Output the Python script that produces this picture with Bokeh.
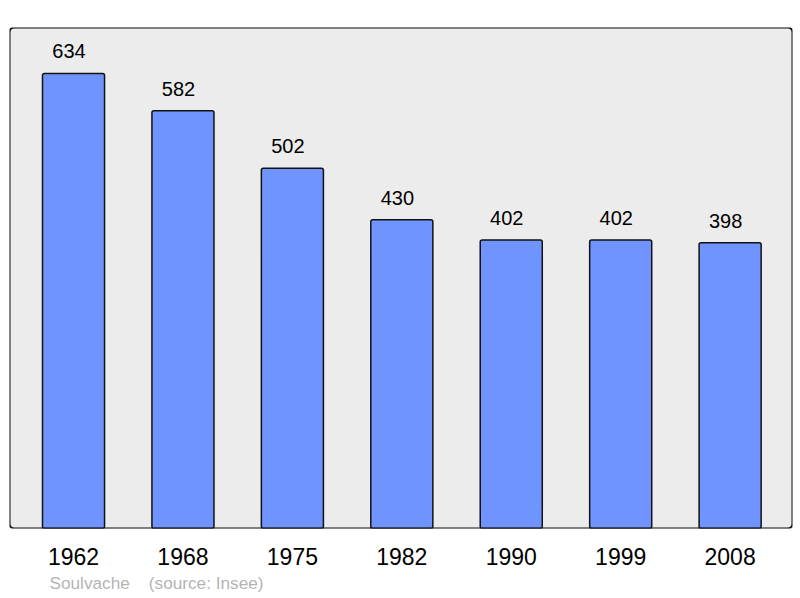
from bokeh.plotting import figure
from bokeh.models import Range1d, FixedTicker, Title, BoxAnnotation, ColumnDataSource
from bokeh.core.properties import value
from bokeh.embed import file_html
from bokeh.resources import INLINE

years = ["1962", "1968", "1975", "1982", "1990", "1999", "2008"]
population = [634, 582, 502, 430, 402, 402, 398]
commune = "Soulvache"
source_text = "(source: Insee)"

idx = list(range(len(years)))
src = ColumnDataSource(dict(x=idx, top=population, label=[str(v) for v in population]))

p = figure(width=800, height=598, output_backend="svg", toolbar_location=None,
           x_range=Range1d(-0.585, len(years) - 1 + 0.57), y_range=Range1d(0, 698),
           min_border_left=9, min_border_right=8, min_border_top=27, min_border_bottom=70)
p.background_fill_color = "#ececec"
p.border_fill_color = "white"
p.outline_line_color = None
p.grid.visible = False
p.yaxis.visible = False

p.vbar(x="x", top="top", width=0.567, bottom=0, source=src,
       fill_color="#7094ff", line_color="#111111", line_width=1.5, border_radius=2)
p.text(x="x", y="top", text="label", source=src, text_align="center",
       text_baseline="alphabetic", x_offset=-4.5, y_offset=-22, text_font=value("Liberation Sans"),
       text_font_size="20px", text_color="black")

p.add_layout(BoxAnnotation(fill_color=None, fill_alpha=0, line_color="#111111", line_alpha=1,
                           line_width=2, border_radius=5))

ax = p.xaxis[0]
ax.ticker = FixedTicker(ticks=idx)
ax.major_label_overrides = {i: y for i, y in zip(idx, years)}
ax.axis_line_color = None
ax.major_tick_line_color = None
ax.minor_tick_line_color = None
ax.major_label_standoff = 13
ax.major_label_text_font = "Liberation Sans"
ax.major_label_text_font_size = "23px"
ax.major_label_text_color = "black"

footer = Title(text=commune + "\u00a0\u00a0\u00a0\u00a0" + source_text, align="left", offset=40,
               standoff=7, text_font="Liberation Sans", text_font_size="17.2px",
               text_font_style="normal", text_color="#b4b4b4")
p.add_layout(footer, "below")

open("out.html", "w").write(file_html(p, INLINE))
